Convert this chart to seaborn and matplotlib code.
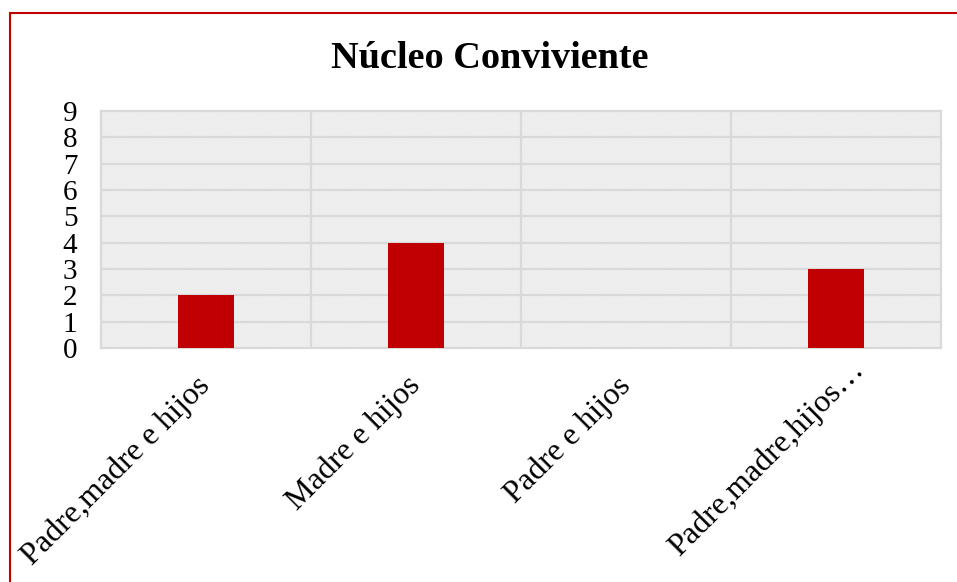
import numpy as np
import pandas as pd
import seaborn as sns
import matplotlib.pyplot as plt
import matplotlib.transforms as mtransforms
from matplotlib.patches import Rectangle

categorias = ["Padre,madre e hijos", "Madre e hijos", "Padre e hijos", "Padre,madre,hijos…"]
valores = [2, 4, 0, 3]
titulo = "Núcleo Conviviente"

df = pd.DataFrame({"nucleo": categorias, "n": valores})

sns.set_style("white")
plt.rcParams['font.family'] = ['Liberation Serif', 'DejaVu Serif']
plt.rcParams['text.color'] = 'black'
plt.rcParams['xtick.color'] = 'black'
plt.rcParams['ytick.color'] = 'black'
plt.rcParams['hatch.linewidth'] = 0.4
plt.rcParams['hatch.color'] = '#dcdcdc'

fig = plt.figure(figsize=(9.57, 5.82), dpi=100)
ax = fig.add_axes([101/957, 1 - 348/582, (941-101)/957, (348-111)/582])

# fondo rayado
ax.add_patch(Rectangle((0, 0), 1, 1, transform=ax.transAxes, facecolor='white',
                       edgecolor='#dcdcdc', hatch='\\' * 20, lw=0, zorder=0))

sns.barplot(data=df, x="nucleo", y="n", color="#C00000", width=0.27,
            saturation=1, edgecolor='none', ax=ax, zorder=3)

ax.set_ylim(0, 9)
ax.set_xlim(-0.5, 3.5)
ax.set_yticks(range(0, 10))
for y in range(1, 9):
    ax.axhline(y, color='#d9d9d9', lw=1.6, zorder=1)
for x in [0.5, 1.5, 2.5]:
    ax.axvline(x, color='#d9d9d9', lw=1.6, zorder=1)
for s in ax.spines.values():
    s.set_color('#d9d9d9')
    s.set_linewidth(1.6)
    s.set_visible(True)

ax.set_xlabel("")
ax.set_ylabel("")
ax.tick_params(axis='y', length=0, pad=17, labelsize=21)
ax.tick_params(axis='x', length=0, pad=24, labelsize=23)
ax.set_xticks(range(len(categorias)))
ax.set_xticklabels(categorias, rotation=45, ha='right', va='center',
                   rotation_mode='anchor')
# la ultima etiqueta (recortada) queda algo desplazada a la derecha y arriba
lab = ax.get_xticklabels()[-1]
lab.set_transform(lab.get_transform() +
                  mtransforms.ScaledTranslation(24/100, 16/100, fig.dpi_scale_trans))

fig.text(490/957, 1 - 59/582, titulo, ha='center', va='center',
         fontsize=27.5, fontweight='bold')

# borde rojo del grafico
fig.patches.append(Rectangle((10/957, -0.1), 1.2, 1 - 13/582 + 0.1,
                             transform=fig.transFigure, fill=False,
                             edgecolor='#C00000', lw=1.5))

fig.savefig("out.png", dpi=100)
